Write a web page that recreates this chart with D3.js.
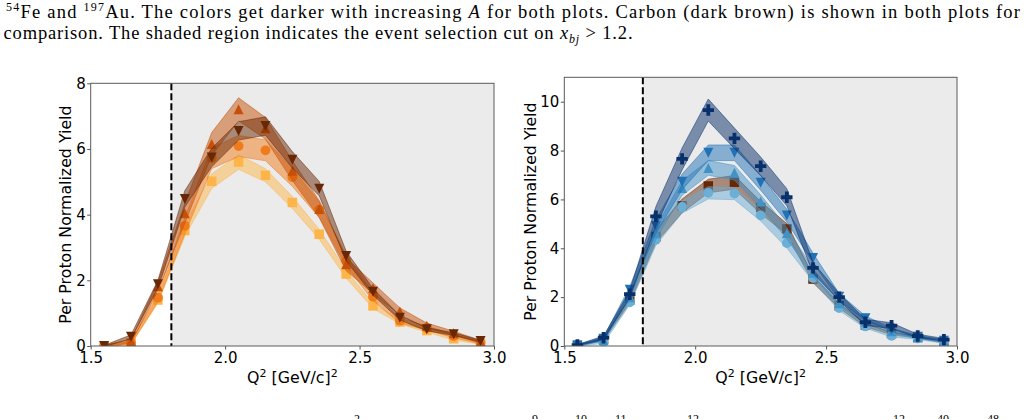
<!DOCTYPE html>
<html>
<head>
<meta charset="utf-8">
<script src="https://cdn.jsdelivr.net/npm/d3@7"></script>
<style>
  body { margin: 0; background: #fff; }
  svg { display: block; }
</style>
</head>
<body>
<svg id="fig"></svg>
<script>
// Q^2 bin centres
var q2 = [1.55, 1.65, 1.75, 1.85, 1.95, 2.05, 2.15, 2.25, 2.35, 2.45, 2.55, 2.65, 2.75, 2.85, 2.95];

// light nuclei (left plot)
var be9 = [0.0, 0.1, 1.40, 3.52, 5.02, 5.60, 5.20, 4.37, 3.40, 2.19, 1.22, 0.73, 0.47, 0.22, 0.08];
var be9Err = [0.02, 0.05, 0.10, 0.18, 0.22, 0.22, 0.20, 0.18, 0.15, 0.12, 0.08, 0.06, 0.05, 0.04, 0.03];
var b10 = [0.0, 0.1, 1.47, 3.66, 5.72, 6.09, 5.96, 5.14, 4.15, 2.60, 1.50, 0.77, 0.55, 0.30, 0.10];
var b10Err = [0.02, 0.05, 0.12, 0.25, 0.32, 0.32, 0.32, 0.28, 0.24, 0.17, 0.12, 0.08, 0.06, 0.05, 0.03];
var b11 = [0.0, 0.15, 1.82, 4.04, 6.15, 7.21, 6.63, 5.34, 4.17, 2.49, 1.76, 1.05, 0.62, 0.39, 0.13];
var b11Err = [0.02, 0.06, 0.14, 0.30, 0.35, 0.35, 0.33, 0.30, 0.26, 0.20, 0.16, 0.11, 0.08, 0.06, 0.04];

// carbon, shown in both plots
var c12 = [0.0, 0.28, 1.88, 4.48, 5.74, 6.55, 6.70, 5.67, 4.79, 2.74, 1.65, 0.86, 0.51, 0.36, 0.15];
var c12Err = [0.02, 0.06, 0.12, 0.25, 0.28, 0.28, 0.28, 0.25, 0.22, 0.15, 0.10, 0.07, 0.05, 0.04, 0.03];

// heavy nuclei (right plot)
var ca40 = [0.02, 0.15, 1.79, 4.35, 5.69, 6.27, 6.24, 5.35, 4.21, 2.78, 1.55, 0.80, 0.42, 0.31, 0.14];
var ca40Err = [0.02, 0.05, 0.10, 0.22, 0.25, 0.25, 0.25, 0.23, 0.20, 0.14, 0.10, 0.07, 0.05, 0.04, 0.03];
var ca48 = [0.03, 0.25, 2.00, 4.62, 6.47, 7.29, 7.09, 5.92, 4.62, 3.00, 1.75, 1.00, 0.60, 0.35, 0.20];
var ca48Err = [0.02, 0.05, 0.12, 0.25, 0.30, 0.30, 0.30, 0.27, 0.23, 0.16, 0.11, 0.08, 0.06, 0.05, 0.04];
var fe54 = [0.03, 0.30, 2.30, 4.90, 6.72, 7.91, 7.91, 6.68, 5.34, 3.60, 2.02, 1.14, 0.66, 0.38, 0.22];
var fe54Err = [0.02, 0.06, 0.13, 0.28, 0.32, 0.32, 0.32, 0.30, 0.26, 0.20, 0.13, 0.09, 0.07, 0.05, 0.04];
var au197 = [0.04, 0.34, 2.12, 5.31, 7.66, 9.66, 8.50, 7.36, 6.09, 3.20, 2.00, 0.97, 0.83, 0.41, 0.26];
var au197Err = [0.02, 0.07, 0.15, 0.40, 0.45, 0.45, 0.42, 0.38, 0.35, 0.22, 0.15, 0.12, 0.12, 0.07, 0.05];

var xTicks = [1.5, 2.0, 2.5, 3.0];
var yTicksLeft = [0, 2, 4, 6, 8];
var yTicksRight = [0, 2, 4, 6, 8, 10];
var cutQ2 = 1.8;

var svg = d3.select("#fig").attr("width", 1028).attr("height", 419);

// bbox-centred triangles like matplotlib's ^ and v
var triUp = { draw: function (ctx, size) {
  var r = Math.sqrt(size) / 2;
  ctx.moveTo(0, -r); ctx.lineTo(r, r); ctx.lineTo(-r, r); ctx.closePath();
}};
var triDown = { draw: function (ctx, size) {
  var r = Math.sqrt(size) / 2;
  ctx.moveTo(0, r); ctx.lineTo(r, -r); ctx.lineTo(-r, -r); ctx.closePath();
}};

function rows(vals, errs) {
  return q2.map(function (q, i) { return { q: q, v: vals[i], e: errs[i] }; });
}

function panel(id, box, yMax, yTicks, series) {
  var x = d3.scaleLinear().domain([1.5, 3.0]).range([box.left, box.right]);
  var y = d3.scaleLinear().domain([0, yMax]).range([box.bottom, box.top]);
  var g = svg.append("g");

  g.append("clipPath").attr("id", "clip" + id)
    .append("rect")
    .attr("x", box.left).attr("y", box.top)
    .attr("width", box.right - box.left).attr("height", box.bottom - box.top);

  // shaded selection region
  g.append("rect")
    .attr("x", x(cutQ2)).attr("y", box.top)
    .attr("width", x(3.0) - x(cutQ2)).attr("height", box.bottom - box.top)
    .attr("fill", "#ebebeb");

  var plot = g.append("g").attr("clip-path", "url(#clip" + id + ")");
  var area = d3.area()
    .x(function (d) { return x(d.q); })
    .y0(function (d) { return y(d.v - d.e); })
    .y1(function (d) { return y(d.v + d.e); });

  series.forEach(function (s) {
    var data = rows(s.values, s.err);
    plot.append("path")
      .datum(data)
      .attr("d", area)
      .attr("fill", s.color).attr("fill-opacity", 0.5)
      .attr("stroke", s.color).attr("stroke-opacity", 0.5).attr("stroke-width", 1);
    plot.selectAll(null)
      .data(data)
      .enter().append("path")
      .attr("transform", function (d) { return "translate(" + x(d.q) + "," + y(d.v) + ")"; })
      .attr("d", d3.symbol().type(s.symbol).size(s.size))
      .attr("fill", s.color);
  });

  // cut line
  g.append("line")
    .attr("x1", x(cutQ2)).attr("x2", x(cutQ2))
    .attr("y1", box.top).attr("y2", box.bottom)
    .attr("stroke", "#000").attr("stroke-width", 2).attr("stroke-dasharray", "7,3");

  // axes
  var xAxis = g.append("g").attr("transform", "translate(0," + box.bottom + ")")
    .call(d3.axisBottom(x).tickValues(xTicks).tickFormat(d3.format(".1f")).tickSize(3.5).tickPadding(2.5));
  var yAxis = g.append("g").attr("transform", "translate(" + box.left + ",0)")
    .call(d3.axisLeft(y).tickValues(yTicks).tickFormat(d3.format("d")).tickSize(3.5).tickPadding(1.5));
  [xAxis, yAxis].forEach(function (a) {
    a.select(".domain").remove();
    a.selectAll(".tick line").attr("stroke", "#555");
    a.selectAll(".tick text").attr("font-family", "DejaVu Sans").attr("font-size", 15).attr("fill", "#000");
  });

  g.append("rect")
    .attr("x", box.left).attr("y", box.top)
    .attr("width", box.right - box.left).attr("height", box.bottom - box.top)
    .attr("fill", "none").attr("stroke", "#5a5a5a").attr("stroke-width", 1);

  var xl = g.append("text")
    .attr("x", (box.left + box.right) / 2).attr("y", 383)
    .attr("text-anchor", "middle")
    .attr("font-family", "DejaVu Sans").attr("font-size", 15.8).attr("fill", "#000");
  xl.append("tspan").text("Q");
  xl.append("tspan").attr("font-size", 11).attr("dy", -6).text("2");
  xl.append("tspan").attr("dy", 6).text(" [GeV/c]");
  xl.append("tspan").attr("font-size", 11).attr("dy", -6).text("2");

  g.append("text")
    .attr("transform", "translate(" + box.ylabelX + "," + (box.top + box.bottom) / 2 + ") rotate(-90)")
    .attr("text-anchor", "middle")
    .attr("font-family", "DejaVu Sans").attr("font-size", 15.8).attr("fill", "#000")
    .text("Per Proton Normalized Yield");
}

panel("L", { left: 90.7, right: 494, top: 83.3, bottom: 346, ylabelX: 71 }, 8, yTicksLeft, [
  { values: be9, err: be9Err, color: "#fdb54a", symbol: d3.symbolSquare, size: 90 },
  { values: b10, err: b10Err, color: "#f07b1b", symbol: d3.symbolCircle, size: 75 },
  { values: b11, err: b11Err, color: "#c65008", symbol: triUp, size: 100 },
  { values: c12, err: c12Err, color: "#682806", symbol: triDown, size: 100 }
]);

panel("R", { left: 564.3, right: 957, top: 77.3, bottom: 346, ylabelX: 535.5 }, 11, yTicksRight, [
  { values: c12, err: c12Err, color: "#682806", symbol: d3.symbolSquare, size: 90 },
  { values: ca40, err: ca40Err, color: "#6baed6", symbol: d3.symbolCircle, size: 75 },
  { values: ca48, err: ca48Err, color: "#4292c6", symbol: triUp, size: 100 },
  { values: fe54, err: fe54Err, color: "#2171b5", symbol: triDown, size: 100 },
  { values: au197, err: au197Err, color: "#08306b", symbol: d3.symbolCross, size: 72 }
]);

// caption text above the figure
var serif = "Liberation Serif";
var line1 = svg.append("text").attr("x", 6).attr("y", 18.3)
  .attr("font-family", serif).attr("font-size", 18.5).attr("fill", "#000")
  .attr("textLength", 1014).attr("lengthAdjust", "spacing");
line1.append("tspan").attr("font-size", 12).attr("dy", -7).text("54");
line1.append("tspan").attr("dy", 7).text("Fe and ");
line1.append("tspan").attr("font-size", 12).attr("dy", -7).text("197");
line1.append("tspan").attr("dy", 7).text("Au.  The colors get darker with increasing ");
line1.append("tspan").attr("font-style", "italic").text("A");
line1.append("tspan").text(" for both plots.  Carbon (dark brown) is shown in both plots for");

var line2 = svg.append("text").attr("x", 3.5).attr("y", 39.3)
  .attr("font-family", serif).attr("font-size", 18.5).attr("fill", "#000")
  .attr("textLength", 629).attr("lengthAdjust", "spacing");
line2.append("tspan").text("comparison. The shaded region indicates the event selection cut on ");
line2.append("tspan").attr("font-style", "italic").text("x");
line2.append("tspan").attr("font-style", "italic").attr("font-size", 12).attr("dy", 4).text("bj");
line2.append("tspan").attr("dy", -4).text(" > 1.2.");

// superscripts of the next caption line, clipped at the bottom edge as in the page
var nextSups = ["2", "9", "10", "11", "12", "12", "40", "48"];
var nextSupX = [354, 532, 575, 615, 687, 893, 937, 987];
svg.selectAll(null).data(nextSups).enter().append("text")
  .attr("x", function (d, i) { return nextSupX[i]; })
  .attr("y", 423)
  .attr("font-family", serif).attr("font-size", 12).attr("fill", "#000")
  .text(function (d) { return d; });
</script>
</body>
</html>
